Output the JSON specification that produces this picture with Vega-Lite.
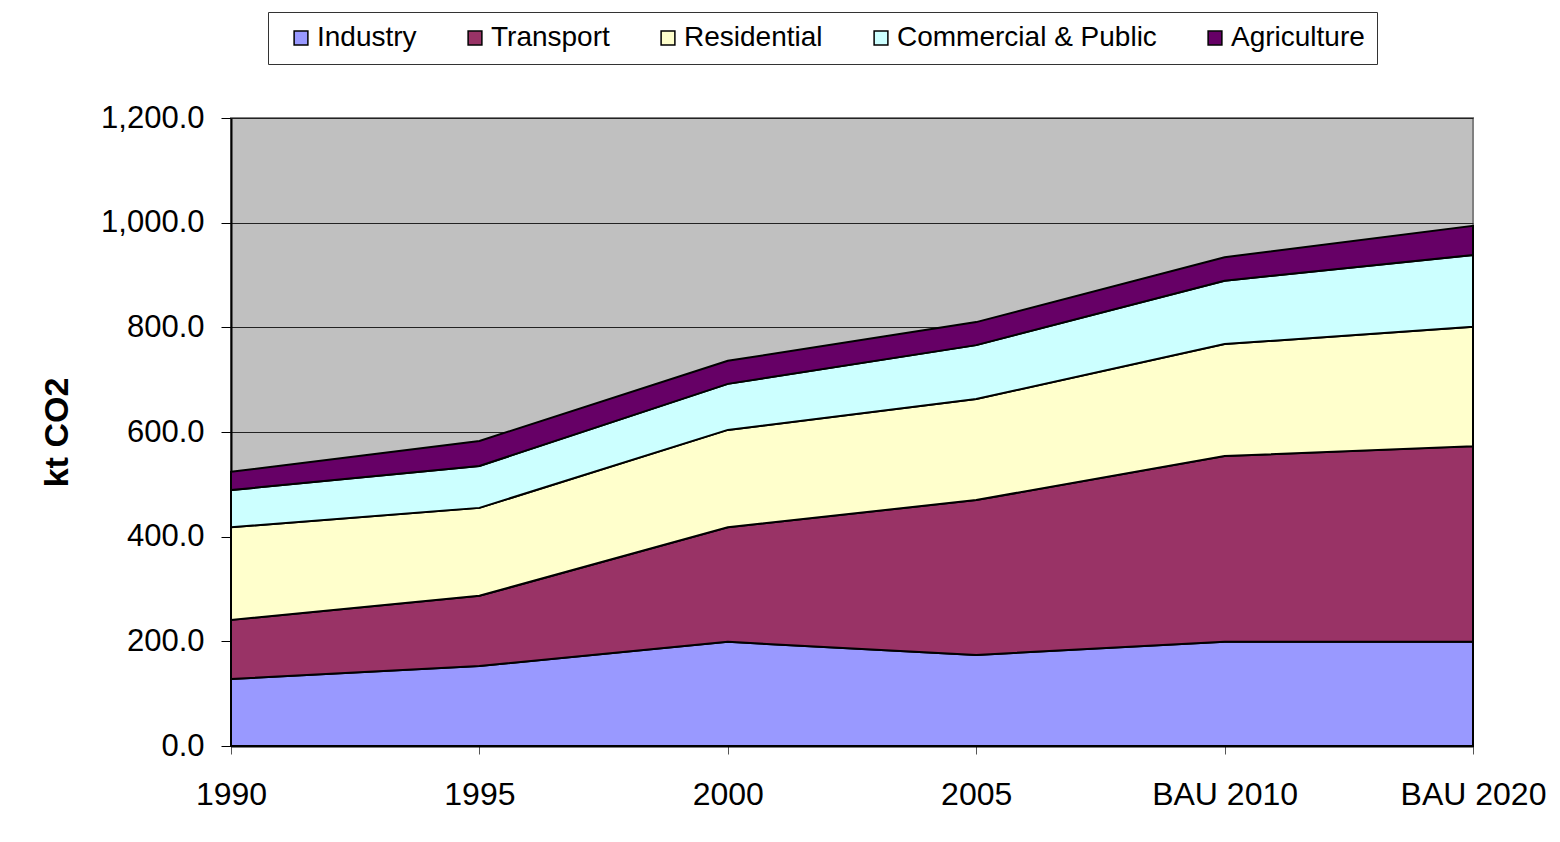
{
  "$schema": "https://vega.github.io/schema/vega-lite/v6.json",
  "width": 1242,
  "height": 628,
  "autosize": "none",
  "padding": {"left": 231, "top": 118, "right": 87, "bottom": 96},
  "background": "white",
  "config": {
    "font": "Liberation Sans",
    "view": {"fill": "#C0C0C0", "stroke": "#808080", "strokeWidth": 2}
  },
  "data": {
    "values": [
      {"year": "1990", "sector": "Industry", "k": 1, "value": 128},
      {"year": "1990", "sector": "Transport", "k": 2, "value": 113},
      {"year": "1990", "sector": "Residential", "k": 3, "value": 177},
      {"year": "1990", "sector": "Commercial & Public", "k": 4, "value": 71},
      {"year": "1990", "sector": "Agriculture", "k": 5, "value": 35},
      {"year": "1995", "sector": "Industry", "k": 1, "value": 153},
      {"year": "1995", "sector": "Transport", "k": 2, "value": 134},
      {"year": "1995", "sector": "Residential", "k": 3, "value": 168},
      {"year": "1995", "sector": "Commercial & Public", "k": 4, "value": 80},
      {"year": "1995", "sector": "Agriculture", "k": 5, "value": 48},
      {"year": "2000", "sector": "Industry", "k": 1, "value": 199},
      {"year": "2000", "sector": "Transport", "k": 2, "value": 219},
      {"year": "2000", "sector": "Residential", "k": 3, "value": 186},
      {"year": "2000", "sector": "Commercial & Public", "k": 4, "value": 88},
      {"year": "2000", "sector": "Agriculture", "k": 5, "value": 44},
      {"year": "2005", "sector": "Industry", "k": 1, "value": 174},
      {"year": "2005", "sector": "Transport", "k": 2, "value": 296},
      {"year": "2005", "sector": "Residential", "k": 3, "value": 193},
      {"year": "2005", "sector": "Commercial & Public", "k": 4, "value": 103},
      {"year": "2005", "sector": "Agriculture", "k": 5, "value": 44},
      {"year": "BAU 2010", "sector": "Industry", "k": 1, "value": 199},
      {"year": "BAU 2010", "sector": "Transport", "k": 2, "value": 355},
      {"year": "BAU 2010", "sector": "Residential", "k": 3, "value": 214},
      {"year": "BAU 2010", "sector": "Commercial & Public", "k": 4, "value": 121},
      {"year": "BAU 2010", "sector": "Agriculture", "k": 5, "value": 45},
      {"year": "BAU 2020", "sector": "Industry", "k": 1, "value": 199},
      {"year": "BAU 2020", "sector": "Transport", "k": 2, "value": 374},
      {"year": "BAU 2020", "sector": "Residential", "k": 3, "value": 228},
      {"year": "BAU 2020", "sector": "Commercial & Public", "k": 4, "value": 137},
      {"year": "BAU 2020", "sector": "Agriculture", "k": 5, "value": 56}
    ]
  },
  "mark": {"type": "area", "stroke": "black", "strokeWidth": 2, "strokeJoin": "miter"},
  "encoding": {
    "x": {
      "field": "year",
      "type": "ordinal",
      "scale": {"type": "point", "padding": 0},
      "axis": {
        "title": null,
        "labelAngle": 0,
        "labelFontSize": 32,
        "labelColor": "black",
        "labelPadding": 25,
        "tickSize": 8,
        "tickColor": "#555",
        "domainColor": "black",
        "domainWidth": 2,
        "grid": false
      }
    },
    "y": {
      "field": "value",
      "type": "quantitative",
      "stack": "zero",
      "scale": {"domain": [0, 1200], "nice": false},
      "axis": {
        "title": "kt CO2",
        "titleFontSize": 34,
        "titleFontWeight": "bold",
        "titleColor": "black",
        "titlePadding": 26,
        "values": [0, 200, 400, 600, 800, 1000, 1200],
        "format": ",.1f",
        "labelFontSize": 31,
        "labelColor": "black",
        "labelPadding": 17,
        "tickSize": 10,
        "tickColor": "black",
        "domainColor": "black",
        "domainWidth": 2,
        "grid": true,
        "gridColor": "#222",
        "gridWidth": 1
      }
    },
    "order": {"field": "k", "type": "quantitative"},
    "fill": {
      "field": "sector",
      "type": "nominal",
      "scale": {
        "domain": ["Industry", "Transport", "Residential", "Commercial & Public", "Agriculture"],
        "range": ["#9999FF", "#993366", "#FFFFCC", "#CCFFFF", "#660066"]
      },
      "legend": {
        "title": null,
        "orient": "none",
        "direction": "horizontal",
        "legendX": 37,
        "legendY": -106,
        "fillColor": "white",
        "strokeColor": "#333",
        "padding": 12,
        "symbolOffset": 7,
        "columnPadding": 37,
        "symbolType": "square",
        "symbolSize": 190,
        "symbolStrokeColor": "black",
        "symbolStrokeWidth": 1.5,
        "labelFontSize": 28,
        "labelColor": "black",
        "labelOffset": 2,
        "labelLimit": 400
      }
    }
  }
}
